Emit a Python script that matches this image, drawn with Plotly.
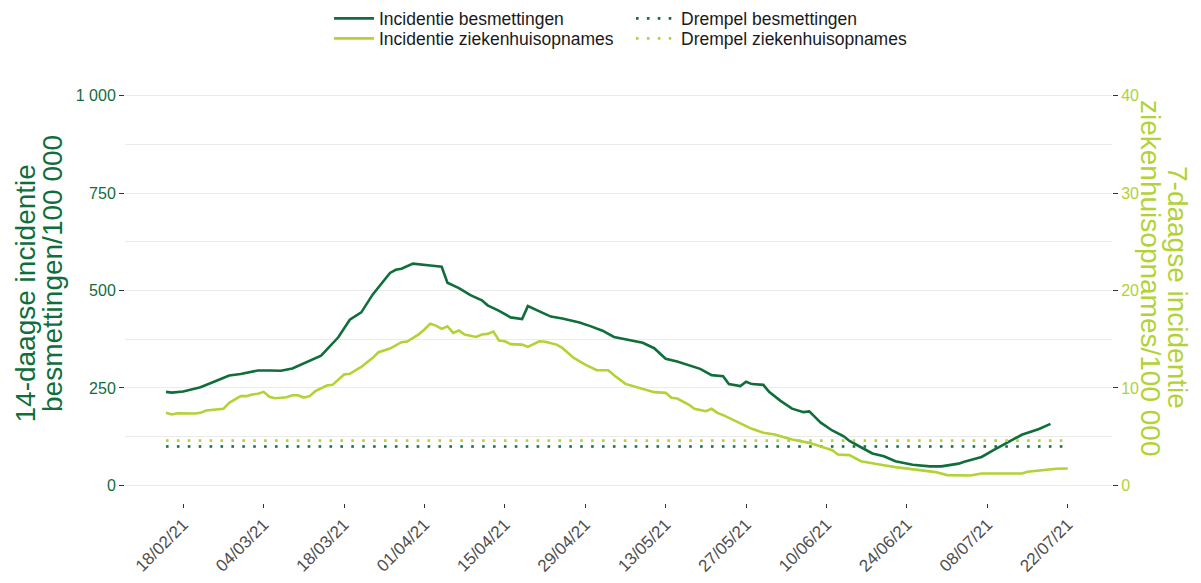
import plotly.graph_objects as go

# ---------------- data ----------------
dates_besmettingen = [
    "2021-02-15", "2021-02-16", "2021-02-18", "2021-02-21", "2021-02-24", "2021-02-26",
    "2021-02-28", "2021-03-03", "2021-03-05", "2021-03-07", "2021-03-09", "2021-03-11",
    "2021-03-14", "2021-03-17", "2021-03-19", "2021-03-21", "2021-03-23", "2021-03-26",
    "2021-03-27", "2021-03-28", "2021-03-30", "2021-04-02", "2021-04-04", "2021-04-05",
    "2021-04-07", "2021-04-09", "2021-04-11", "2021-04-12", "2021-04-14", "2021-04-16",
    "2021-04-18", "2021-04-19", "2021-04-21", "2021-04-23", "2021-04-25", "2021-04-28",
    "2021-04-30", "2021-05-02", "2021-05-04", "2021-05-07", "2021-05-09", "2021-05-11",
    "2021-05-13", "2021-05-15", "2021-05-18", "2021-05-19", "2021-05-21", "2021-05-23",
    "2021-05-24", "2021-05-26", "2021-05-27", "2021-05-28", "2021-05-30", "2021-05-31",
    "2021-06-02", "2021-06-04", "2021-06-06", "2021-06-07", "2021-06-09", "2021-06-11",
    "2021-06-13", "2021-06-14", "2021-06-16", "2021-06-18", "2021-06-20", "2021-06-22",
    "2021-06-25", "2021-06-28", "2021-06-30", "2021-07-03", "2021-07-04", "2021-07-07",
    "2021-07-09", "2021-07-12", "2021-07-14", "2021-07-17", "2021-07-19",
]
incidentie_besmettingen = [
    240, 238, 241, 252, 270, 282,
    286, 295, 295, 294, 300, 314,
    333, 380, 425, 444, 490, 545,
    553, 556, 569, 564, 561, 520,
    506, 488, 475, 462, 448, 431,
    427, 460, 447, 433, 428, 418,
    408, 397, 381, 372, 366, 352,
    325, 318, 304, 299, 283, 280,
    260, 255, 266, 260, 258, 240,
    217, 197, 188, 190, 161, 141,
    126, 114, 98, 82, 75, 62,
    53, 49, 49, 56, 61, 73,
    90, 113, 130, 145, 158,
]

dates_ziekenhuis = [
    "2021-02-15", "2021-02-16", "2021-02-17", "2021-02-20", "2021-02-21", "2021-02-22",
    "2021-02-25", "2021-02-26", "2021-02-28", "2021-03-01", "2021-03-02", "2021-03-03",
    "2021-03-04", "2021-03-05", "2021-03-06", "2021-03-08", "2021-03-09", "2021-03-10",
    "2021-03-11", "2021-03-12", "2021-03-13", "2021-03-15", "2021-03-16", "2021-03-18",
    "2021-03-19", "2021-03-21", "2021-03-23", "2021-03-24", "2021-03-26", "2021-03-28",
    "2021-03-29", "2021-03-31", "2021-04-01", "2021-04-02", "2021-04-03", "2021-04-04",
    "2021-04-05", "2021-04-06", "2021-04-07", "2021-04-08", "2021-04-10", "2021-04-11",
    "2021-04-12", "2021-04-13", "2021-04-14", "2021-04-15", "2021-04-16", "2021-04-18",
    "2021-04-19", "2021-04-21", "2021-04-22", "2021-04-24", "2021-04-25", "2021-04-27",
    "2021-04-29", "2021-05-01", "2021-05-03", "2021-05-04", "2021-05-06", "2021-05-08",
    "2021-05-09", "2021-05-11", "2021-05-13", "2021-05-14", "2021-05-15", "2021-05-17",
    "2021-05-18", "2021-05-20", "2021-05-21", "2021-05-22", "2021-05-23", "2021-05-25",
    "2021-05-27", "2021-05-28", "2021-05-30", "2021-06-01", "2021-06-02", "2021-06-04",
    "2021-06-07", "2021-06-09", "2021-06-11", "2021-06-12", "2021-06-14", "2021-06-16",
    "2021-06-18", "2021-06-20", "2021-06-22", "2021-06-25", "2021-06-29", "2021-07-01",
    "2021-07-03", "2021-07-05", "2021-07-07", "2021-07-11", "2021-07-14", "2021-07-15",
    "2021-07-17", "2021-07-20", "2021-07-22",
]
incidentie_ziekenhuis = [
    7.45, 7.28, 7.4, 7.38, 7.45, 7.69,
    7.86, 8.47, 9.16, 9.16, 9.33, 9.4,
    9.6, 9.09, 8.95, 9.05, 9.26, 9.26,
    9.02, 9.16, 9.67, 10.25, 10.32, 11.38,
    11.45, 12.16, 13.09, 13.67, 14.04, 14.7,
    14.76, 15.5, 16.0, 16.6, 16.4, 16.06,
    16.33, 15.65, 15.89, 15.48, 15.24, 15.48,
    15.55, 15.78, 14.86, 14.79, 14.5, 14.45,
    14.21, 14.79, 14.75, 14.45, 14.11, 13.09,
    12.4, 11.82, 11.82, 11.3, 10.42, 10.08,
    9.9, 9.57, 9.5, 8.99, 8.92, 8.3,
    7.86, 7.62, 7.86, 7.45, 7.21, 6.66,
    6.15, 5.81, 5.4, 5.23, 5.06, 4.71,
    4.37, 4.03, 3.62, 3.18, 3.11, 2.49,
    2.25, 2.08, 1.88, 1.64, 1.37, 1.06,
    1.02, 1.02, 1.23, 1.2, 1.23, 1.4,
    1.54, 1.71, 1.74,
]

drempel_dates = ["2021-02-15", "2021-07-22"]
drempel_besmettingen = [100, 100]
drempel_ziekenhuis = [4.6, 4.6]

x_tickvals = ["2021-02-18", "2021-03-04", "2021-03-18", "2021-04-01", "2021-04-15",
              "2021-04-29", "2021-05-13", "2021-05-27", "2021-06-10", "2021-06-24",
              "2021-07-08", "2021-07-22"]
y_tickvals = [0, 250, 500, 750, 1000]
y_ticktext = ["0", "250", "500", "750", "1 000"]
y_minorvals = [125, 375, 625, 875]
y2_tickvals = [0, 10, 20, 30, 40]

# ---------------- style ----------------
DARK = "#0f6e3b"
LIGHT = "#b2d235"
FONT = "Liberation Sans, Arial, sans-serif"
DOT = "2.6px,8.3px"
LEG_FONT = dict(size=17.5, color="#1a1a1a", family=FONT)

fig = go.Figure()
fig.add_trace(go.Scatter(x=dates_besmettingen, y=incidentie_besmettingen, mode="lines",
                         name="Incidentie besmettingen", line=dict(color=DARK, width=2.6),
                         legend="legend"))
fig.add_trace(go.Scatter(x=dates_ziekenhuis, y=incidentie_ziekenhuis, mode="lines",
                         name="Incidentie ziekenhuisopnames", line=dict(color=LIGHT, width=2.6),
                         yaxis="y2", legend="legend2"))
fig.add_trace(go.Scatter(x=drempel_dates, y=drempel_besmettingen, mode="lines",
                         name="Drempel besmettingen", line=dict(color=DARK, width=2.6, dash=DOT),
                         legend="legend3"))
fig.add_trace(go.Scatter(x=drempel_dates, y=drempel_ziekenhuis, mode="lines",
                         name="Drempel ziekenhuisopnames", line=dict(color=LIGHT, width=2.6, dash=DOT),
                         yaxis="y2", legend="legend4"))


def leg(xpix, ypix):
    return dict(x=xpix / 1201, y=1 - ypix / 583, xref="container", yref="container",
                xanchor="left", yanchor="middle", orientation="v", font=LEG_FONT,
                itemwidth=40, bgcolor="rgba(0,0,0,0)", borderwidth=0)


fig.update_layout(
    width=1201, height=583,
    margin=dict(l=125, r=89, t=78, b=80, autoexpand=False),
    paper_bgcolor="white", plot_bgcolor="white",
    font=dict(family=FONT, size=15, color="#333333"),
    xaxis=dict(
        range=["2021-02-07 20:40", "2021-07-29 17:00"],
        tickmode="array", tickvals=x_tickvals, tickformat="%d/%m/%y",
        tickangle=-45, ticks="outside", ticklen=4, tickcolor="#333333", tickwidth=1,
        tickfont=dict(size=17, color="#4d4d4d", family=FONT),
        showgrid=False, zeroline=False, showline=False,
    ),
    yaxis=dict(
        range=[-45, 1045], tickmode="array", tickvals=y_tickvals, ticktext=y_ticktext,
        ticks="outside", ticklen=5, tickcolor="#333333", tickwidth=1,
        tickfont=dict(size=16, color=DARK, family=FONT),
        showgrid=True, gridcolor="#ebebeb", gridwidth=1,
        minor=dict(tickmode="array", tickvals=y_minorvals, showgrid=True,
                   gridcolor="#ebebeb", gridwidth=1, ticks=""),
        zeroline=False, showline=False,
    ),
    yaxis2=dict(
        overlaying="y", side="right", range=[-1.8, 41.8],
        tickmode="array", tickvals=y2_tickvals,
        ticks="outside", ticklen=5, tickcolor="#333333", tickwidth=1,
        tickfont=dict(size=16, color=LIGHT, family=FONT),
        showgrid=False, zeroline=False, showline=False,
    ),
    legend=leg(329, 18.5),
    legend2=leg(329, 38.5),
    legend3=leg(631, 18.5),
    legend4=leg(631, 38.5),
    showlegend=True,
)

TITLE = 28
fig.add_annotation(text="14-daagse incidentie", xref="paper", yref="paper",
                   x=(25 - 125) / 987, y=(503 - 293.5) / 425, xanchor="center", yanchor="middle",
                   textangle=-90, showarrow=False, font=dict(size=TITLE, color=DARK, family=FONT))
fig.add_annotation(text="besmettingen/100 000", xref="paper", yref="paper",
                   x=(52.5 - 125) / 987, y=(503 - 273.5) / 425, xanchor="center", yanchor="middle",
                   textangle=-90, showarrow=False, font=dict(size=TITLE, color=DARK, family=FONT))
fig.add_annotation(text="7-daagse incidentie", xref="paper", yref="paper",
                   x=(1177.5 - 125) / 987, y=(503 - 287.5) / 425, xanchor="center", yanchor="middle",
                   textangle=90, showarrow=False, font=dict(size=TITLE, color=LIGHT, family=FONT))
fig.add_annotation(text="ziekenhuisopnames/100 000", xref="paper", yref="paper",
                   x=(1151 - 125) / 987, y=(503 - 278) / 425, xanchor="center", yanchor="middle",
                   textangle=90, showarrow=False, font=dict(size=TITLE, color=LIGHT, family=FONT))

fig.write_html("out.html", config={"displayModeBar": False},
               post_script="document.body.style.margin='0';")
